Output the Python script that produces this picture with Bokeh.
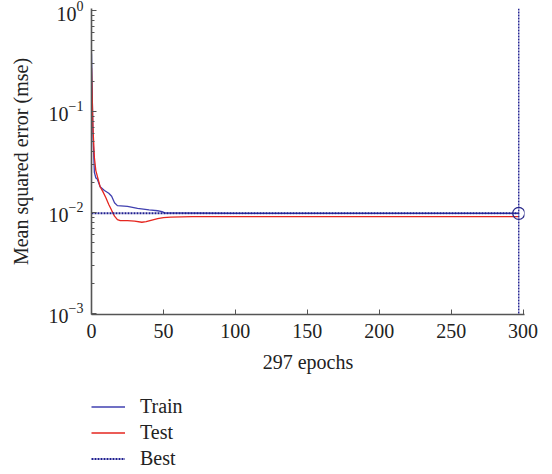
from bokeh.plotting import figure
from bokeh.layouts import column
from bokeh.models import (Range1d, FixedTicker, Legend, LegendItem, Span, LogTicker)
from bokeh.embed import file_html
from bokeh.resources import INLINE

# ---- data ----
train_epochs = [0, 1, 2, 3, 4, 6, 9, 12, 14, 16, 18, 25, 32, 40, 46, 49, 51, 100, 200, 297]
train_mse = [0.375, 0.06, 0.025, 0.022, 0.0215, 0.018, 0.0165, 0.0155, 0.0145, 0.0125, 0.0117,
             0.0115, 0.011, 0.0106, 0.0104, 0.0102, 0.0099, 0.0098, 0.0098, 0.0098]
test_epochs = [0, 1, 2, 3, 4, 6, 8, 10, 12, 14, 16, 18, 20, 25, 30, 35, 38, 42, 46, 50, 55, 70,
               100, 200, 297]
test_mse = [0.27, 0.07, 0.035, 0.026, 0.023, 0.018, 0.016, 0.014, 0.012, 0.0105, 0.0092, 0.0085,
            0.0083, 0.0083, 0.0082, 0.0080, 0.0081, 0.0084, 0.0087, 0.0089, 0.0090, 0.0091,
            0.0091, 0.0091, 0.0091]
best_epoch = 297
best_mse = 0.0098
x_ticks = [0, 50, 100, 150, 200, 250, 300]
series_names = ["Train", "Test", "Best"]

FONT = "Liberation Serif"
AXIS_COL = "#555555"
TEXT_COL = "#222222"
BLUE = "#4040b0"
RED = "#e5261f"
BEST = "#1e1e90"

p = figure(width=544, height=380, output_backend="svg", toolbar_location=None,
           y_axis_type="log",
           x_range=Range1d(0, 301), y_range=Range1d(0.000977, 1.046),
           min_border_left=91, min_border_right=20, min_border_top=8, min_border_bottom=66)
p.outline_line_color = None
p.grid.visible = False
p.background_fill_color = "white"
p.border_fill_color = "white"

p.xaxis.ticker = FixedTicker(ticks=x_ticks)
p.yaxis.ticker = LogTicker(num_minor_ticks=10)
for ax in (p.xaxis[0], p.yaxis[0]):
    ax.axis_line_color = AXIS_COL
    ax.axis_line_width = 1.6
    ax.major_tick_line_color = AXIS_COL
    ax.minor_tick_line_color = AXIS_COL
    ax.major_tick_in = 5
    ax.major_tick_out = 0
    ax.minor_tick_in = 3
    ax.minor_tick_out = 0
    ax.major_label_text_font = FONT
    ax.major_label_text_font_size = "20px"
    ax.major_label_text_color = TEXT_COL
    ax.axis_label_text_font = FONT
    ax.axis_label_text_font_size = "20px"
    ax.axis_label_text_font_style = "normal"
    ax.axis_label_text_color = TEXT_COL
p.xaxis.minor_tick_line_color = None
p.xaxis.axis_label = "297 epochs"
p.yaxis.axis_label = "Mean squared error (mse)"
p.xaxis.major_label_standoff = 9
p.yaxis.major_label_standoff = 8
p.xaxis.axis_label_standoff = 10
p.yaxis.axis_label_standoff = 14

p.line(train_epochs, train_mse, line_color=BLUE, line_width=1.3)
p.line(test_epochs, test_mse, line_color=RED, line_width=1.3)
p.line([0, best_epoch], [best_mse, best_mse], line_color=BEST, line_width=2, line_dash="2 1")
p.add_layout(Span(location=best_epoch, dimension="height", line_color=BEST,
                  line_width=1.4, line_dash="2 1"))
p.scatter([best_epoch], [best_mse], size=12, marker="circle", fill_color=None,
          line_color="#2a2a8a", line_width=1.3)

# ---- legend panel below the chart (its renderers hold the same series, kept out of view) ----
q = figure(width=544, height=90, output_backend="svg", toolbar_location=None,
           x_range=Range1d(-2, -1), y_range=Range1d(-2, -1),
           min_border_left=91, min_border_right=0, min_border_top=0, min_border_bottom=0)
q.axis.visible = False
q.grid.visible = False
q.outline_line_color = None
lg_train = q.line(train_epochs, train_mse, line_color=BLUE, line_width=1.3)
lg_test = q.line(test_epochs, test_mse, line_color=RED, line_width=1.3)
lg_best = q.line([0, best_epoch], [best_mse, best_mse], line_color=BEST, line_width=2,
                 line_dash="2 1")

legend = Legend(items=[LegendItem(label=series_names[0], renderers=[lg_train]),
                       LegendItem(label=series_names[1], renderers=[lg_test]),
                       LegendItem(label=series_names[2], renderers=[lg_best])],
                location=(0, 0), orientation="vertical",
                border_line_color=None, background_fill_alpha=0,
                label_text_font=FONT, label_text_font_size="20px",
                label_text_color=TEXT_COL, label_height=23,
                glyph_width=34, glyph_height=23, spacing=3, label_standoff=15,
                padding=0, margin=0)
q.add_layout(legend, "center")

open("out.html", "w").write(file_html(column(p, q, spacing=0), INLINE))
